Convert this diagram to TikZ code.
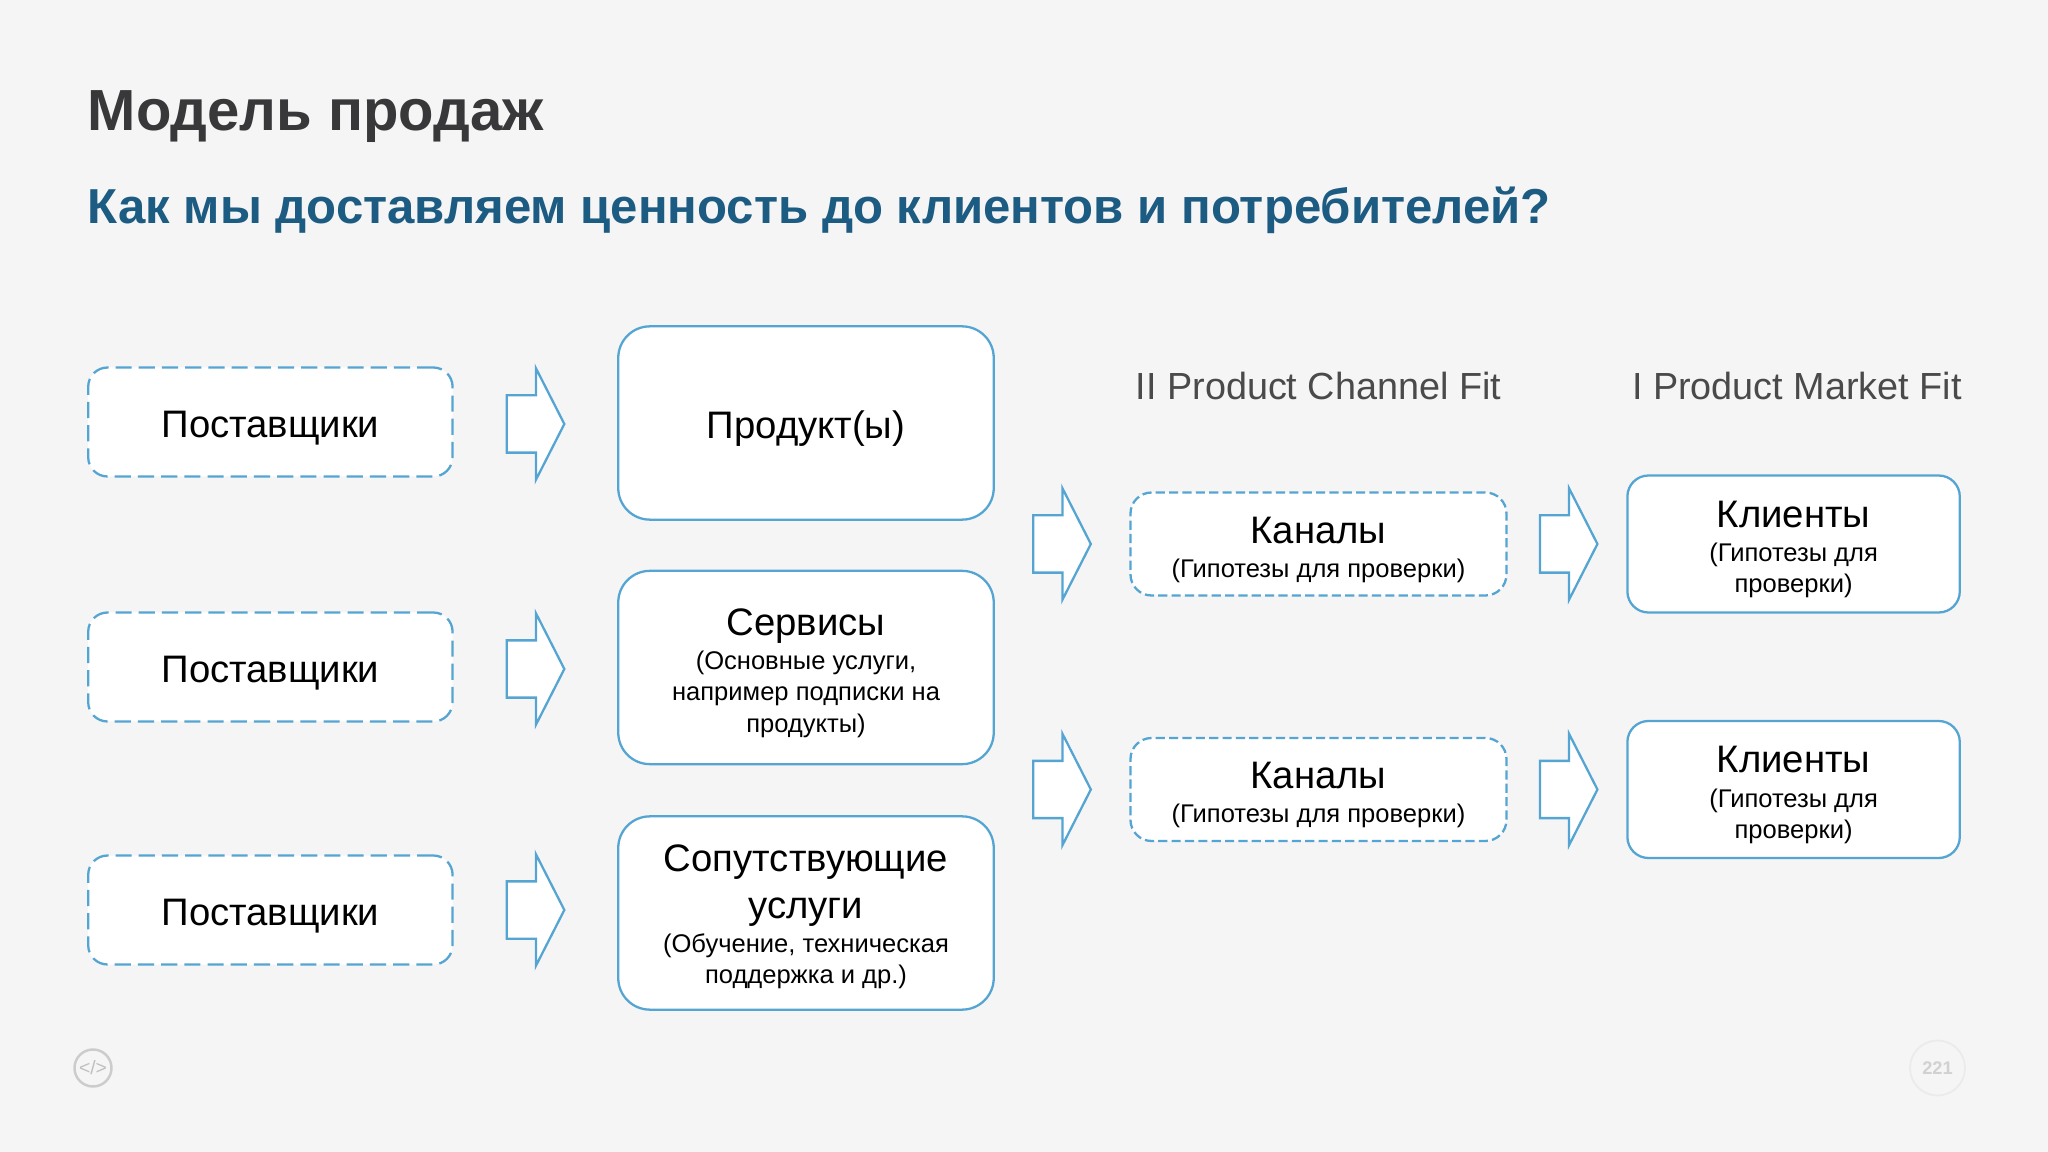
\documentclass[tikz,border=0pt]{standalone}
\usepackage{fontspec}
\setmainfont{Liberation Sans}
\usetikzlibrary{shapes.arrows}
\definecolor{pagebg}{HTML}{F5F5F5}
\definecolor{boxblue}{HTML}{55A5D3}
\definecolor{titlegray}{HTML}{38383A}
\definecolor{subblue}{HTML}{1C5B82}
\definecolor{headgray}{HTML}{4A4A4A}
\newcommand{\bigsize}{\fontsize{10.9}{13}\selectfont}
\newcommand{\smallsize}{\fontsize{7.27}{8.9}\selectfont}
\tikzset{
  solidbox/.style={draw=boxblue,fill=white,line width=0.65pt,align=center,inner sep=0pt,text=black,font=\smallsize,text height=10.8pt},
  supplierbox/.style={solidbox,dash pattern=on 4.6pt off 2pt,rounded corners=5.5pt,minimum width=3.644cm,minimum height=1.09cm},
  productbox/.style={solidbox,rounded corners=9pt,minimum width=3.755cm,minimum height=1.933cm},
  channelbox/.style={solidbox,dash pattern=on 2.6pt off 1.2pt,rounded corners=6pt,minimum width=3.76cm,minimum height=1.03cm,text height=20.4pt},
  clientbox/.style={solidbox,rounded corners=6pt,minimum width=3.324cm,minimum height=1.37cm,text height=29.3pt},
  blockarrow/.style={single arrow,draw=boxblue,fill=white,line width=0.65pt,inner xsep=0pt,inner ysep=0.275cm,outer sep=0pt,
    minimum height=0.575cm,minimum width=1.095cm,single arrow head extend=0.272cm,single arrow tip angle=126},
  heading/.style={text=headgray,font=\fontsize{10.75}{12}\selectfont,inner sep=0pt}
}
\begin{document}
\begin{tikzpicture}
  \fill[pagebg] (0,0) rectangle (20.48,-11.52);
  \useasboundingbox (0,0) rectangle (20.48,-11.52);
  % titles
  \node[anchor=west,inner sep=0pt,text=titlegray,font=\fontsize{16.5}{18}\selectfont\bfseries] (title) at (0.87,-1.17) {Модель продаж};
  \node[anchor=west,inner sep=0pt,text=subblue,font=\fontsize{13.97}{17}\selectfont\bfseries] (subtitle) at (0.87,-2.1) {Как мы доставляем ценность до клиентов и потребителей?};
  \node[heading] (channelfit) at (13.185,-3.86) {II Product Channel Fit};
  \node[heading] (marketfit) at (17.97,-3.86) {I Product Market Fit};
  % first column
  \node[supplierbox] (suppliera) at (2.704,-4.22) {{\bigsize Поставщики}};
  \node[supplierbox] (supplierb) at (2.704,-6.67) {{\bigsize Поставщики}};
  \node[supplierbox] (supplierc) at (2.704,-9.10) {{\bigsize Поставщики}};
  \node[blockarrow] (arrowa) at (5.283,-4.24) {};
  \node[blockarrow] (arrowb) at (5.283,-6.69) {};
  \node[blockarrow] (arrowc) at (5.283,-9.10) {};
  % second column
  \node[productbox] (product) at (8.06,-4.23) {{\bigsize Продукт(ы)}};
  \node[productbox,text height=38.3pt] (service) at (8.06,-6.675) {{\bigsize Сервисы}\\[0.8pt](Основные услуги,\\например подписки на\\продукты)};
  \node[productbox,text height=41.6pt] (extra) at (8.06,-9.13) {{\bigsize Сопутствующие}\\[4.3pt]{\bigsize услуги}\\[0.8pt](Обучение, техническая\\поддержка и др.)};
  \node[blockarrow] (arrowd) at (10.548,-5.44) {};
  \node[blockarrow] (arrowe) at (10.548,-7.895) {};
  % third column
  \node[channelbox] (channela) at (13.185,-5.44) {{\bigsize Каналы}\\[0.8pt](Гипотезы для проверки)};
  \node[channelbox] (channelb) at (13.185,-7.895) {{\bigsize Каналы}\\[0.8pt](Гипотезы для проверки)};
  \node[blockarrow] (arrowf) at (15.614,-5.44) {};
  \node[blockarrow] (arrowg) at (15.614,-7.895) {};
  % last column
  \node[clientbox] (clienta) at (17.936,-5.44) {{\bigsize Клиенты}\\[0.8pt](Гипотезы для\\проверки)};
  \node[clientbox] (clientb) at (17.936,-7.895) {{\bigsize Клиенты}\\[0.8pt](Гипотезы для\\проверки)};
  % footer marks
  \node[circle,draw=black!20,line width=0.7pt,minimum size=0.37cm,inner sep=0pt,text=black!25,font=\fontsize{5.5}{6}\selectfont] (codemark) at (0.93,-10.68) {</>};
  \node[circle,draw=black!8,line width=0.5pt,minimum size=0.55cm,inner sep=0pt,text=black!18,font=\fontsize{5.2}{6}\selectfont\bfseries] (pagemark) at (19.375,-10.68) {221};
\end{tikzpicture}
\end{document}
